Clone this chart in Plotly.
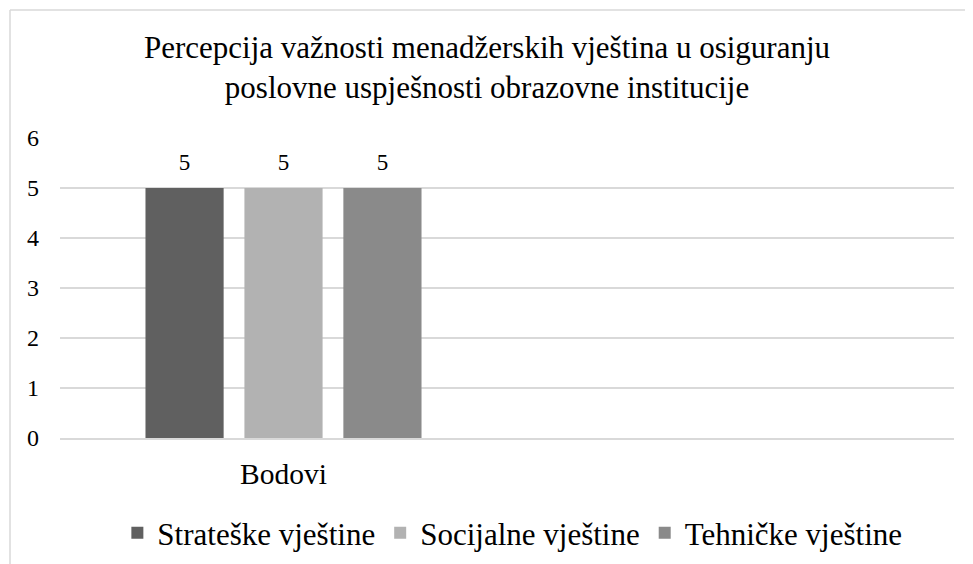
import plotly.graph_objects as go

categories = ["Bodovi"]
axis_categories = ["Bodovi", " "]
series_names = ["Strateške vještine", "Socijalne vještine", "Tehničke vještine"]
series_values = [[5], [5], [5]]
series_colors = ["#606060", "#b2b2b2", "#8a8a8a"]
y_ticks = [0, 1, 2, 3, 4, 5, 6]
title_text = "Percepcija važnosti menadžerskih vještina u osiguranju<br>poslovne uspješnosti obrazovne institucije"

FONT = "Liberation Serif"

fig = go.Figure()
for name, vals, col in zip(series_names, series_values, series_colors):
    fig.add_trace(go.Bar(
        name=name, x=categories, y=vals, marker_color=col, marker_line_width=0,
        texttemplate="<span style='font-size:23px'>%{y}</span><br> ", textposition="outside",
        textfont=dict(family=FONT, size=10, color="#000000"),
        cliponaxis=False,
    ))

# page body has an 8px margin, so figure coordinates are offset by 8px
fig.update_layout(
    width=973, height=564,
    margin=dict(l=52, r=27, t=130, b=134),
    paper_bgcolor="white", plot_bgcolor="white",
    barmode="group", bargap=0.336, bargroupgap=0.21,
    font=dict(family=FONT, color="#000000"),
    title=dict(text=title_text, x=0.4923, xanchor="center", xref="container",
               y=1 - 50 / 564, yanchor="middle", yref="container",
               font=dict(family=FONT, size=31, color="#000000")),
    legend=dict(orientation="h", x=0.506, xanchor="center", y=-0.317, yanchor="middle",
                font=dict(family=FONT, size=31, color="#000000"), itemwidth=30,
                traceorder="normal"),
    showlegend=True,
)
fig.update_yaxes(range=[0, 6], tickvals=y_ticks, showgrid=True, gridcolor="#d9d9d9",
                 gridwidth=1.5, zeroline=False, showline=False,
                 tickfont=dict(family=FONT, size=24, color="#000000"), ticks="",
                 ticklabelstandoff=20)
fig.update_xaxes(type="category", categoryorder="array", categoryarray=axis_categories,
                 range=[-0.5, 1.5], showgrid=False, zeroline=False,
                 showline=True, linecolor="#d9d9d9", linewidth=1.5,
                 tickfont=dict(family=FONT, size=29.5, color="#000000"), ticks="",
                 ticklabelstandoff=9)

# chart frame (top and left edges)
fig.add_shape(type="line", xref="paper", yref="paper", x0=(2 - 52) / 894, x1=(973 - 52) / 894,
              y0=1 + 128 / 300, y1=1 + 128 / 300, line=dict(color="#d9d9d9", width=1.5))
fig.add_shape(type="line", xref="paper", yref="paper", x0=(2 - 52) / 894, x1=(2 - 52) / 894,
              y0=1 + 128 / 300, y1=-134 / 300 - 0.01, line=dict(color="#d9d9d9", width=1.5))

fig.write_html("out.html")
